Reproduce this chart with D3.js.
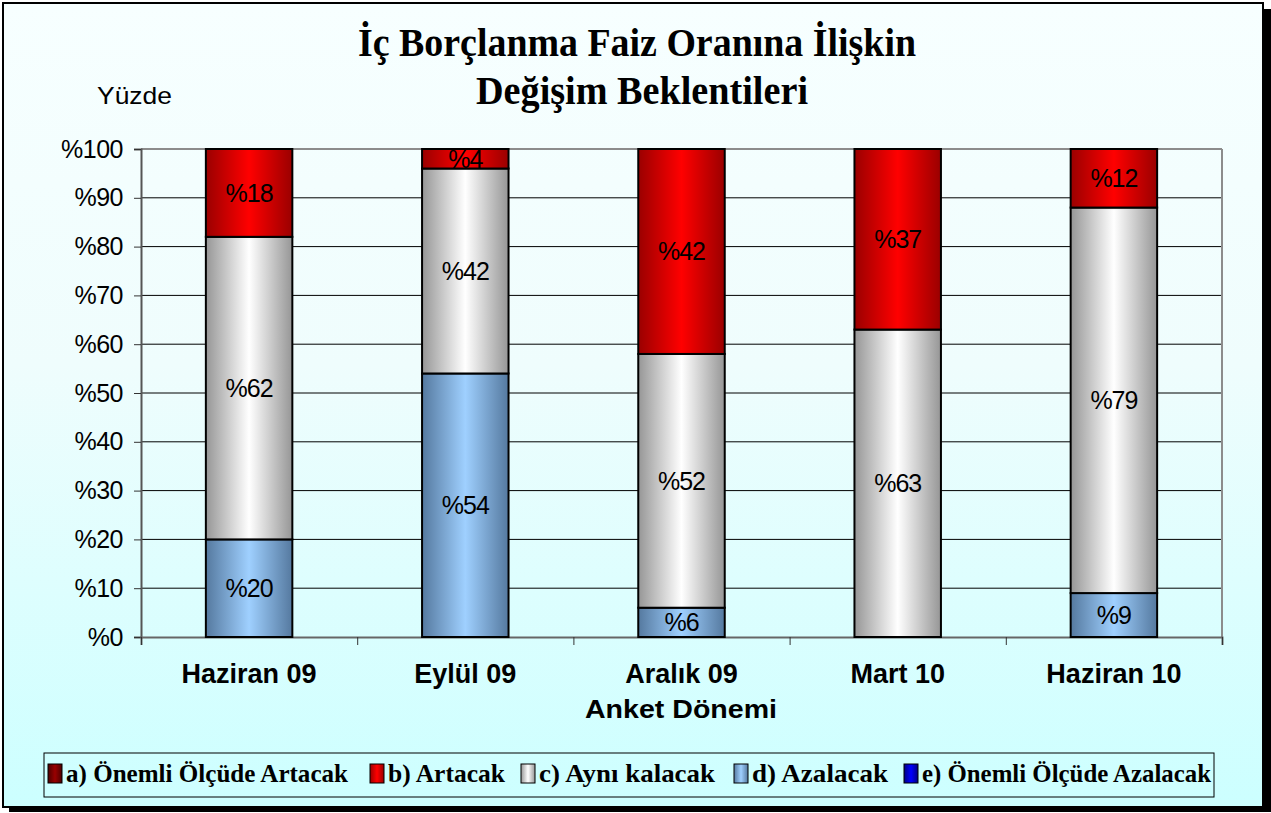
<!DOCTYPE html>
<html>
<head>
<meta charset="utf-8">
<script src="https://cdn.jsdelivr.net/npm/d3@7"></script>
<style>
  body { margin: 0; background: #fff; }
  svg text { font-family: "Liberation Sans", Arial, sans-serif; }
</style>
</head>
<body>
<div id="chart"></div>
<script>
// survey periods
var categories = ["Haziran 09", "Eylül 09", "Aralık 09", "Mart 10", "Haziran 10"];
// answer shares per period (percent)
var onemliArtacak  = [0, 0, 0, 0, 0];
var artacak        = [18, 4, 42, 37, 12];
var ayniKalacak    = [62, 42, 52, 63, 79];
var azalacak       = [20, 54, 6, 0, 9];
var onemliAzalacak = [0, 0, 0, 0, 0];
var seriesNames = ["a) Önemli Ölçüde Artacak", "b) Artacak", "c) Aynı kalacak", "d)  Azalacak", "e) Önemli Ölçüde Azalacak"];
var yTicks = [0, 10, 20, 30, 40, 50, 60, 70, 80, 90, 100];

var W = 1271, H = 813;
var plot = {left: 141, right: 1222, top: 149, bottom: 637};

var keys = ["a", "b", "c", "d", "e"];
var table = categories.map(function(c, i) {
    return {cat: c, a: onemliArtacak[i], b: artacak[i], c: ayniKalacak[i], d: azalacak[i], e: onemliAzalacak[i]};
});

var svg = d3.select("#chart").append("svg")
    .attr("width", W).attr("height", H);

var defs = svg.append("defs");
var bg = defs.append("linearGradient").attr("id", "bg")
    .attr("x1", 0).attr("y1", 0).attr("x2", 0).attr("y2", 1);
bg.append("stop").attr("offset", "0%").attr("stop-color", "#f7ffff");
bg.append("stop").attr("offset", "45%").attr("stop-color", "#effdfd");
bg.append("stop").attr("offset", "100%").attr("stop-color", "#ccffff");

// edge / centre colours for the bar gradients
var grad = {
    a: ["#4d0000", "#990000"],
    b: ["#9a0000", "#ff0000"],
    c: ["#969696", "#ffffff"],
    d: ["#55799f", "#9fd0ff"],
    e: ["#000080", "#0000ff"]
};
keys.forEach(function(k) {
    var g = defs.append("linearGradient").attr("id", "g" + k)
        .attr("x1", 0).attr("y1", 0).attr("x2", 1).attr("y2", 0);
    g.append("stop").attr("offset", "0%").attr("stop-color", grad[k][0]);
    g.append("stop").attr("offset", "50%").attr("stop-color", grad[k][1]);
    g.append("stop").attr("offset", "100%").attr("stop-color", grad[k][0]);
});

// frame with shadow
svg.append("rect").attr("x", 9).attr("y", 9).attr("width", 1262).attr("height", 803).attr("fill", "#000");
svg.append("rect").attr("x", 3).attr("y", 3).attr("width", 1260).attr("height", 804)
    .attr("fill", "url(#bg)").attr("stroke", "#000").attr("stroke-width", 2);

// title
svg.append("text").attr("x", 637).attr("y", 56).attr("text-anchor", "middle")
    .style("font-family", "'Liberation Serif', 'Times New Roman', serif")
    .style("font-weight", "bold").style("font-size", "41px")
    .attr("textLength", 558).attr("lengthAdjust", "spacingAndGlyphs")
    .text("İç Borçlanma Faiz Oranına İlişkin");
svg.append("text").attr("x", 642).attr("y", 104).attr("text-anchor", "middle")
    .style("font-family", "'Liberation Serif', 'Times New Roman', serif")
    .style("font-weight", "bold").style("font-size", "41px")
    .attr("textLength", 332).attr("lengthAdjust", "spacingAndGlyphs")
    .text("Değişim Beklentileri");

svg.append("text").attr("x", 97).attr("y", 104)
    .style("font-size", "24px").attr("textLength", 75).attr("lengthAdjust", "spacingAndGlyphs")
    .text("Yüzde");

var x = d3.scaleBand().domain(categories)
    .range([plot.left, plot.right]).paddingInner(0.6).paddingOuter(0.3);
var y = d3.scaleLinear().domain([0, 100]).range([plot.bottom, plot.top]);

// gridlines
svg.append("g").selectAll("line").data(yTicks.slice(1, -1)).enter().append("line")
    .attr("x1", plot.left).attr("x2", plot.right)
    .attr("y1", function(d) { return y(d); }).attr("y2", function(d) { return y(d); })
    .attr("stroke", "#000").attr("stroke-width", 1);
svg.append("line").attr("x1", plot.left).attr("x2", plot.right)
    .attr("y1", y(100)).attr("y2", y(100)).attr("stroke", "#8c8c8c").attr("stroke-width", 2);
svg.append("line").attr("x1", plot.right).attr("x2", plot.right)
    .attr("y1", y(100)).attr("y2", y(0)).attr("stroke", "#8c8c8c").attr("stroke-width", 2);

// y axis
var yAxis = d3.axisLeft(y).tickValues(yTicks).tickSize(7).tickPadding(11)
    .tickFormat(function(d) { return "%" + d; });
var gY = svg.append("g").attr("transform", "translate(" + plot.left + ",0)").call(yAxis);
gY.select(".domain").attr("stroke", "#555").attr("stroke-width", 2);
gY.selectAll(".tick line").attr("stroke", "#333");
gY.selectAll(".tick text").attr("fill", "#000")
    .style("font-family", "'Liberation Sans', Arial, sans-serif").style("font-size", "25px")
    .style("letter-spacing", "-0.5px");

// x axis: boundary ticks
var xb = d3.scaleLinear().domain([0, categories.length]).range([plot.left, plot.right]);
var xAxis = d3.axisBottom(xb).ticks(categories.length).tickSize(8).tickFormat("");
var gX = svg.append("g").attr("transform", "translate(0," + plot.bottom + ")").call(xAxis);
gX.select(".domain").attr("stroke", "#666").attr("stroke-width", 2);
gX.selectAll(".tick line").attr("stroke", "#333");

var xLab = d3.axisBottom(x).tickSize(0).tickPadding(27);
var gXL = svg.append("g").attr("transform", "translate(0," + plot.bottom + ")").call(xLab);
gXL.select(".domain").remove();
gXL.selectAll(".tick text").attr("fill", "#000")
    .style("font-family", "'Liberation Sans', Arial, sans-serif")
    .style("font-weight", "bold").style("font-size", "27px");

svg.append("text").attr("x", 681).attr("y", 718).attr("text-anchor", "middle")
    .style("font-weight", "bold").style("font-size", "26px")
    .attr("textLength", 192).attr("lengthAdjust", "spacingAndGlyphs")
    .text("Anket Dönemi");

// stacked bars, bottom to top: e, d, c, b, a
var stack = d3.stack().keys(["e", "d", "c", "b", "a"]);
var layers = stack(table);

var layerG = svg.append("g").selectAll("g").data(layers).enter().append("g")
    .attr("fill", function(s) { return "url(#g" + s.key + ")"; });

layerG.selectAll("rect").data(function(s) {
        return s.map(function(p) { return {key: s.key, y0: p[0], y1: p[1], cat: p.data.cat}; });
    })
    .enter().filter(function(d) { return d.y1 - d.y0 > 0; }).append("rect")
    .attr("x", function(d) { return x(d.cat); })
    .attr("width", x.bandwidth())
    .attr("y", function(d) { return y(d.y1); })
    .attr("height", function(d) { return y(d.y0) - y(d.y1); })
    .attr("stroke", "#000").attr("stroke-width", 2);

layerG.selectAll("text").data(function(s) {
        return s.map(function(p) { return {key: s.key, y0: p[0], y1: p[1], cat: p.data.cat}; });
    })
    .enter().filter(function(d) { return d.y1 - d.y0 > 0; }).append("text")
    .attr("x", function(d) { return x(d.cat) + x.bandwidth() / 2; })
    .attr("y", function(d) { return y((d.y0 + d.y1) / 2) + 9; })
    .attr("text-anchor", "middle").attr("fill", "#000")
    .style("font-size", "25px").style("letter-spacing", "-1px")
    .text(function(d) { return "%" + (d.y1 - d.y0); });

// legend
var legendX = [48, 370, 521, 734, 904];
var legendW = [282, 117, 176, 136, 289];
svg.append("rect").attr("x", 44).attr("y", 753).attr("width", 1170).attr("height", 44)
    .attr("fill", "none").attr("stroke", "#000").attr("stroke-width", 1);
var lg = svg.append("g").selectAll("g").data(keys).enter().append("g")
    .attr("transform", function(k, i) { return "translate(" + legendX[i] + ",764)"; });
lg.append("rect").attr("width", 14).attr("height", 19)
    .attr("fill", function(k) { return "url(#g" + k + ")"; })
    .attr("stroke", "#000").attr("stroke-width", 1);
lg.append("text").attr("x", 18).attr("y", 18)
    .style("font-family", "'Liberation Serif', 'Times New Roman', serif")
    .style("font-weight", "bold").style("font-size", "26px")
    .attr("textLength", function(k, i) { return legendW[i]; })
    .attr("lengthAdjust", "spacingAndGlyphs")
    .text(function(k, i) { return seriesNames[i]; });
</script>
</body>
</html>
